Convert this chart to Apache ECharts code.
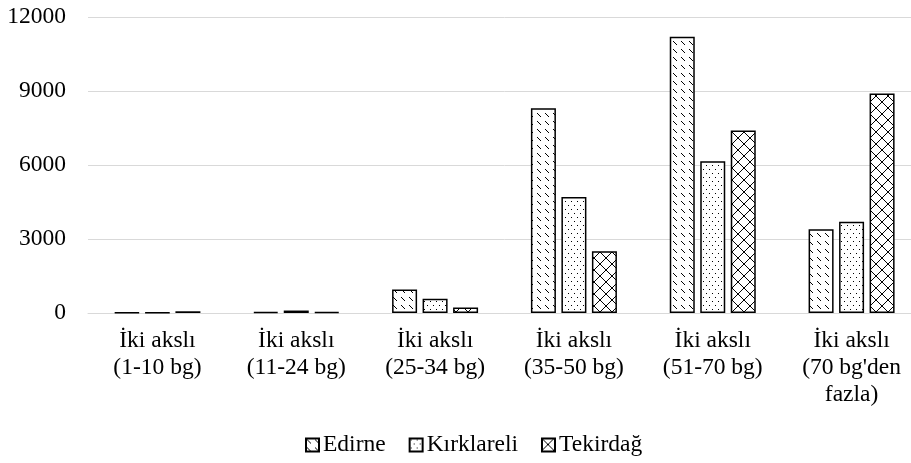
<!DOCTYPE html>
<html>
<head>
<meta charset="utf-8">
<script src="https://cdn.jsdelivr.net/npm/echarts@6/dist/echarts.min.js"></script>
<style>
  html, body { margin: 0; padding: 0; background: #fff; overflow: hidden; }
  #chart { width: 931px; height: 463px; }
</style>
</head>
<body>
<div id="chart"></div>
<script>
// Vehicle categories (two-axle, by seat count)
const categories = [
  'İki akslı\n(1-10 bg)',
  'İki akslı\n(11-24 bg)',
  'İki akslı\n(25-34 bg)',
  'İki akslı\n(35-50 bg)',
  'İki akslı\n(51-70 bg)',
  "İki akslı\n(70 bg'den\nfazla)"
];
const seriesNames = ['Edirne', 'Kırklareli', 'Tekirdağ'];
const edirne     = [20, 45, 950, 8300, 11200, 3400];
const kirklareli = [15, 100, 580, 4700, 6150, 3700];
const tekirdag   = [70, 40, 220, 2500, 7400, 8900];
const yTicks = { min: 0, max: 12000, interval: 3000 };

// Monochrome fill patterns built on small canvases
function makeTile(w, h, draw) {
  const c = document.createElement('canvas');
  c.width = w; c.height = h;
  const ctx = c.getContext('2d');
  ctx.fillStyle = '#fff';
  ctx.fillRect(0, 0, w, h);
  ctx.fillStyle = '#000';
  draw(ctx);
  return c;
}
// dashed downward diagonal
const diagTile = makeTile(8, 8, ctx => {
  for (let i = 0; i < 4; i++) ctx.fillRect(i + 1, i + 1, 1, 1);
});
// staggered dots
const dotTile = makeTile(6, 8, ctx => {
  ctx.fillRect(1, 1, 1, 1);
  ctx.fillRect(4, 5, 1, 1);
});
// diamond lattice
const latticeTile = makeTile(12, 12, ctx => {
  for (let i = 0; i < 12; i++) {
    ctx.fillRect(i, i, 1, 1);
    ctx.fillRect(11 - i, i, 1, 1);
  }
});

const patterns = [diagTile, dotTile, latticeTile];
const values = [edirne, kirklareli, tekirdag];

const font = 'Liberation Serif';
const fontSize = 23.5;
const chart = echarts.init(document.getElementById('chart'), null, { renderer: 'canvas' });

chart.setOption({
  backgroundColor: '#fff',
  animation: false,
  textStyle: { fontFamily: font, color: '#000' },
  grid: { left: 88, top: 17, right: 10, bottom: 150 },
  legend: {
    top: 428,
    left: 300,
    itemWidth: 13,
    itemHeight: 13,
    itemGap: 23,
    textStyle: { fontFamily: font, fontSize: fontSize, color: '#000', padding: [0, 0, 0, -1] },
    data: seriesNames.map(n => ({ name: n, icon: 'rect' }))
  },
  xAxis: {
    type: 'category',
    data: categories,
    axisLine: { lineStyle: { color: '#d9d9d9', width: 1 } },
    axisTick: { show: false },
    axisLabel: {
      interval: 0,
      margin: 14,
      fontFamily: font,
      fontSize: fontSize,
      lineHeight: 27,
      color: '#000'
    }
  },
  yAxis: {
    type: 'value',
    min: yTicks.min,
    max: yTicks.max,
    interval: yTicks.interval,
    axisLine: { show: false },
    axisTick: { show: false },
    splitLine: { lineStyle: { color: '#d9d9d9', width: 1 } },
    axisLabel: {
      margin: 22,
      fontFamily: font,
      fontSize: fontSize,
      color: '#000',
      formatter: v => String(v)
    }
  },
  series: seriesNames.map((name, i) => ({
    name,
    type: 'bar',
    data: values[i],
    barWidth: 25,
    barGap: '22%',
    barCategoryGap: '37%',
    itemStyle: {
      color: { image: patterns[i], repeat: 'repeat' },
      borderColor: '#000',
      borderWidth: 1.5
    },
    emphasis: { disabled: true }
  }))
});
</script>
</body>
</html>
